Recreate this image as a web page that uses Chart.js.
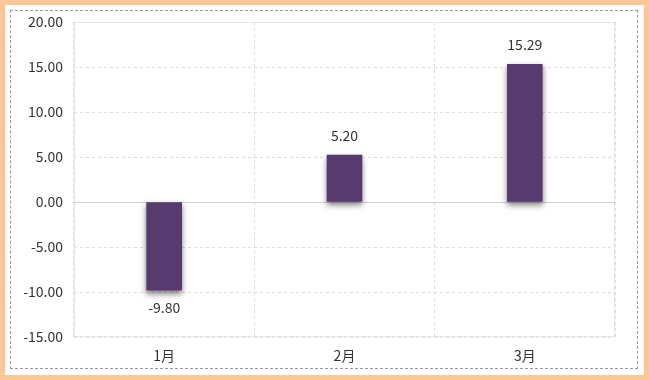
<!DOCTYPE html>
<html><head><meta charset="utf-8">
<script src="https://cdn.jsdelivr.net/npm/chart.js@4/dist/chart.umd.min.js"></script>
<style>
html,body{margin:0;padding:0;background:#fff;}
#outer{position:absolute;left:0;top:0;width:649px;height:380px;box-sizing:border-box;border:5px solid #F9C896;}
#inner{position:absolute;left:10px;top:10px;width:628px;height:359px;box-sizing:border-box;border:1px dashed #999;}
canvas{position:absolute;left:0;top:0;}
</style></head>
<body>
<div id="outer"></div><div id="inner"></div>
<canvas id="c" width="649" height="380"></canvas>
<script>
const categories = ['1月','2月','3月'];
const values = [-9.80, 5.20, 15.29];
const yMin = -15, yMax = 20, yStep = 5;

const FONT = '"Noto Sans CJK SC", "Noto Sans", sans-serif';

const extras = {
  id: 'extras',
  beforeDatasetsDraw(chart) {
    const {ctx, chartArea: a, scales: {y}} = chart;
    ctx.save();
    ctx.strokeStyle = '#e6e6e6';
    ctx.lineWidth = 1;
    ctx.strokeRect(a.left + 0.5, a.top + 0.5, a.right - a.left - 1, a.bottom - a.top - 1);
    const z = Math.round(y.getPixelForValue(0)) + 0.5;
    ctx.strokeStyle = '#d0d0d0';
    ctx.beginPath(); ctx.moveTo(a.left, z); ctx.lineTo(a.right, z); ctx.stroke();
    ctx.restore();
  },
  beforeDatasetDraw(chart) {
    const ctx = chart.ctx;
    ctx.save();
    ctx.shadowColor = 'rgba(0,0,0,0.5)';
    ctx.shadowBlur = 6;
    ctx.shadowOffsetX = 0;
    ctx.shadowOffsetY = 3;
  },
  afterDatasetDraw(chart) {
    chart.ctx.restore();
  },
  afterDatasetsDraw(chart) {
    const ctx = chart.ctx;
    const meta = chart.getDatasetMeta(0);
    ctx.save();
    ctx.font = '14px ' + FONT;
    ctx.fillStyle = '#333';
    ctx.textAlign = 'center';
    ctx.textBaseline = 'middle';
    meta.data.forEach((bar, i) => {
      const v = values[i];
      const yy = v >= 0 ? bar.y - 20 : bar.y + 17;
      ctx.fillText(v.toFixed(2), bar.x, yy);
    });
    ctx.restore();
  }
};

new Chart(document.getElementById('c'), {
  type: 'bar',
  data: {
    labels: categories,
    datasets: [{
      data: values,
      backgroundColor: '#573a6e',
      barThickness: 35
    }]
  },
  options: {
    responsive: false,
    animation: false,
    devicePixelRatio: 1,
    layout: {padding: {left: 0, right: 34, top: 22, bottom: 0}},
    plugins: {legend: {display: false}, tooltip: {enabled: false}},
    scales: {
      x: {
        grid: {color: '#dcdcdc', drawTicks: false, offset: true},
        border: {display: false, dash: [3, 3]},
        ticks: {font: {family: FONT, size: 14}, color: '#333', padding: 10},
        afterFit(s) { s.height = 43; }
      },
      y: {
        min: yMin, max: yMax,
        grid: {color: '#dcdcdc', drawTicks: false},
        border: {display: false, dash: [3, 3]},
        ticks: {stepSize: yStep, font: {family: FONT, size: 14}, color: '#333', padding: 11,
                callback: v => Number(v).toFixed(2)},
        afterFit(s) { s.width = 74; }
      }
    }
  },
  plugins: [extras]
});
</script>
</body></html>
